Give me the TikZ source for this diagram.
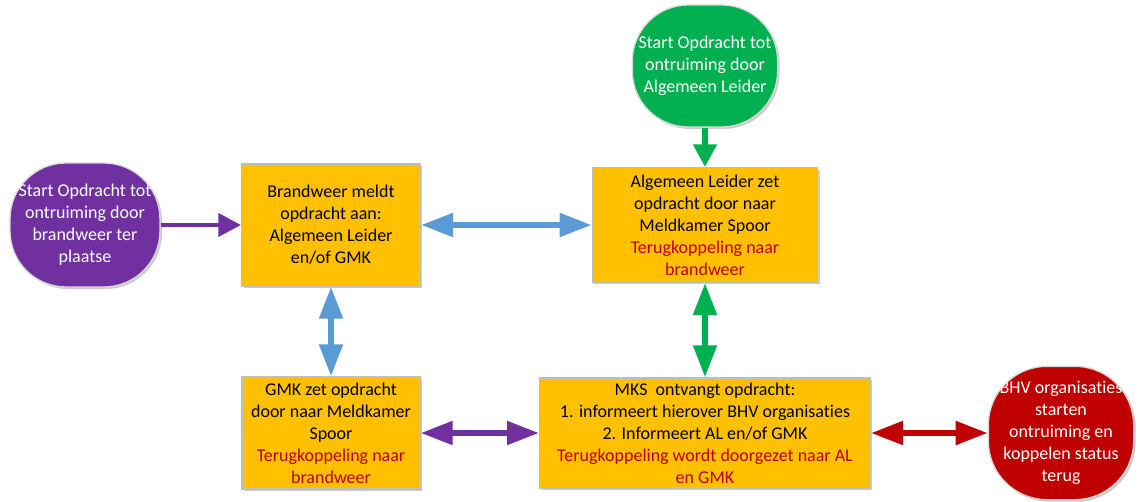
\documentclass[tikz,border=0pt]{standalone}
\usepackage{fontspec}
\setmainfont{Carlito}[Ligatures=NoCommon]
\usetikzlibrary{arrows.meta,shadows}
\definecolor{stapkleur}{HTML}{FFC000}
\definecolor{tred}{HTML}{C00000}
\definecolor{lblauw}{HTML}{5B9BD5}
\definecolor{lgroen}{HTML}{00B050}
\definecolor{lpaars}{HTML}{7030A0}
\newcommand{\tk}[1]{\textcolor{tred}{#1}}
\begin{document}
\begin{tikzpicture}[x=0.75pt, y=-0.75pt, font=\fontsize{13.5}{16.5}\selectfont,
  stap/.style={draw=black!25, line width=1pt, fill=stapkleur, align=center, inner sep=2pt,
    drop shadow={shadow xshift=1.5pt, shadow yshift=-1.5pt, fill=black!40, opacity=.5}},
  start/.style={draw=black!15, line width=1pt, rounded corners=42pt, align=center,
    text=white, inner sep=1pt,
    drop shadow={shadow xshift=1.5pt, shadow yshift=-1.5pt, fill=black!40, opacity=.5}},
  pijl/.style={line width=4.5pt, {Triangle[length=24pt,width=17pt]}-{Triangle[length=24pt,width=17pt]}},
  enkel/.style={line width=3.5pt, -{Triangle[length=17pt,width=17pt]}}]
  \useasboundingbox (0,0) rectangle (1144,502);
  % startpunten
  \node[start, fill=lpaars, minimum width=112.5pt, minimum height=93pt] at (85, 225) (sbw)
    {Start Opdracht tot\\ontruiming door\\brandweer ter\\plaatse};
  \node[start, fill=lgroen, minimum width=109pt, minimum height=91.5pt] at (705, 66) (sal)
    {Start Opdracht tot\\ontruiming door\\Algemeen Leider};
  \node[start, fill=tred, minimum width=109pt, minimum height=100pt, rounded corners=44pt] at (1061, 433) (bhv)
    {BHV organisaties\\starten\\ontruiming en\\koppelen status\\terug};
  % stappen
  \node[stap, minimum width=134pt, minimum height=91.5pt] at (331, 225) (bw)
    {Brandweer meldt\\opdracht aan:\\Algemeen Leider\\en/of GMK};
  \node[stap, minimum width=169pt, minimum height=86pt] at (705, 225) (al)
    {Algemeen Leider zet\\opdracht door naar\\Meldkamer Spoor\\\tk{Terugkoppeling naar}\\\tk{brandweer}};
  \node[stap, minimum width=133.5pt, minimum height=84pt] at (331, 433) (gmk)
    {GMK zet opdracht\\door naar Meldkamer\\Spoor\\\tk{Terugkoppeling naar}\\\tk{brandweer}};
  \node[stap, minimum width=248pt, minimum height=82.5pt] at (705, 433) (mks)
    {MKS\ \ ontvangt opdracht:\\1. informeert hierover BHV organisaties\\2. Informeert AL en/of GMK\\\tk{Terugkoppeling wordt doorgezet naar AL}\\\tk{en GMK}};
  % pijlen
  \draw[enkel, lpaars] (sbw) -- (bw);
  \draw[enkel, lgroen, line width=4.5pt] (sal) -- (al);
  \draw[pijl, lblauw] (bw) -- (al);
  \draw[pijl, lblauw] (bw) -- (gmk);
  \draw[pijl, lgroen] (al) -- (mks);
  \draw[pijl, lpaars] (gmk) -- (mks);
  \draw[pijl, tred] (mks) -- (bhv);
\end{tikzpicture}
\end{document}
